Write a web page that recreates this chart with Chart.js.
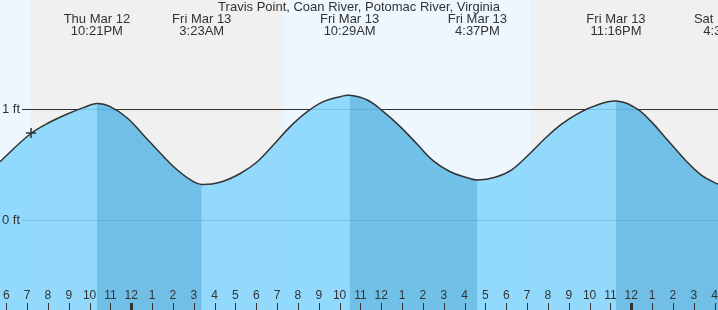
<!DOCTYPE html>
<html><head><meta charset="utf-8">
<script src="https://cdn.jsdelivr.net/npm/chart.js@4.4.1/dist/chart.umd.min.js"></script>
<style>html,body{margin:0;padding:0;background:#fff;overflow:hidden}#wrap{width:718px;height:310px;position:relative}</style>
</head><body><div id="wrap"><canvas id="c"></canvas></div>
<script>
// ---- data (hours counted from 00:00 Thu Mar 12) ----
const titleText = "Travis Point, Coan River, Potomac River, Virginia";
const tideHours = [17.70,19.15,20.11,20.93,21.70,22.35,22.99,23.81,24.58,25.39,26.21,26.98,27.38,28.27,29.23,30.05,30.82,31.63,32.45,33.22,34.03,34.48,35.33,36.10,36.91,37.73,38.50,39.31,40.13,40.62,41.47,42.24,43.06,43.87,44.64,45.46,46.27,47.27,48.24,48.96,49.78,50.59,51.36,52.18,52.53];
const tideFeet  = [0.525,0.775,0.883,0.955,1.012,1.05,1.021,0.919,0.766,0.604,0.450,0.345,0.32,0.34,0.419,0.525,0.676,0.841,0.976,1.066,1.111,1.123,1.081,0.976,0.841,0.682,0.532,0.435,0.381,0.36,0.385,0.450,0.586,0.736,0.862,0.961,1.030,1.072,1.006,0.886,0.712,0.541,0.405,0.322,0.30];
const extremeHours = [22.35,27.383,34.483,40.617,47.267,52.533];
const extremeDays  = ["Thu Mar 12","Fri Mar 13","Fri Mar 13","Fri Mar 13","Fri Mar 13","Sat Mar 14"];
const extremeTimes = ["10:21PM","3:23AM","10:29AM","4:37PM","11:16PM","4:32AM"];
const nightStarts = [19.19,43.19];
const nightEnds   = [31.33,60];
const hourTicks  = [18,19,20,21,22,23,24,25,26,27,28,29,30,31,32,33,34,35,36,37,38,39,40,41,42,43,44,45,46,47,48,49,50,51,52];
const hourLabels = ["6","7","8","9","10","11","12","1","2","3","4","5","6","7","8","9","10","11","12","1","2","3","4","5","6","7","8","9","10","11","12","1","2","3","4"];
const midnightHours = [24,48];
const yTickValues = [0,1];
const yTickLabels = ["0 ft","1 ft"];
const markerHours = [19.19];
const markerFeet  = [0.784];
const xMin = 17.70, xMax = 52.164, yMin = -0.811, yMax = 1.982;

const FONT = '"Liberation Sans", Arial, sans-serif';
const LIGHT = 'rgba(132,214,253,0.87)';
const DARK_OVER = 'rgba(36,134,181,0.3)';

const tidePts = tideHours.map((h,i)=>({x:h,y:tideFeet[i]}));
const markPts = markerHours.map((h,i)=>({x:h,y:markerFeet[i]}));

const deco = {
  id:'deco',
  beforeDraw(chart){
    const {ctx, scales:{x,y}} = chart;
    const H = chart.height, W = chart.width;
    ctx.save();
    ctx.fillStyle = '#eef7fe';
    ctx.fillRect(0,0,W,H);
    ctx.fillStyle = '#f0f0f0';
    nightStarts.forEach((s,i)=>{
      const a = Math.round(x.getPixelForValue(s)), b = Math.round(x.getPixelForValue(nightEnds[i]));
      ctx.fillRect(a,0,b-a,H);
    });
    ctx.strokeStyle = '#333';
    ctx.lineWidth = 1;
    yTickValues.forEach(v=>{
      const py = Math.round(y.getPixelForValue(v))+0.5;
      ctx.beginPath(); ctx.moveTo(22,py); ctx.lineTo(W,py); ctx.stroke();
    });
    ctx.restore();
  },
  afterDatasetsDraw(chart){
    const {ctx, scales:{x,y}} = chart;
    ctx.save();
    ctx.fillStyle = '#333';
    ctx.textBaseline = 'middle';
    ctx.font = '13px ' + FONT;
    ctx.textAlign = 'center';
    ctx.fillText(titleText, chart.width/2, 7.5);
    extremeHours.forEach((h,i)=>{
      const px = x.getPixelForValue(h);
      ctx.fillText(extremeDays[i], px, 19.5);
      ctx.fillText(extremeTimes[i], px, 31.5);
    });
    ctx.textAlign = 'left';
    yTickValues.forEach((v,i)=>{
      ctx.fillText(yTickLabels[i], 2, y.getPixelForValue(v));
    });
    ctx.textAlign = 'center';
    ctx.font = '12px ' + FONT;
    hourTicks.forEach((h,i)=>{
      const px = x.getPixelForValue(h);
      ctx.fillText(hourLabels[i], px, 296);
      const wide = midnightHours.includes(h);
      ctx.fillRect(Math.round(px) - (wide?1:0), 303, wide?3:1, 7);
    });
    ctx.restore();
  }
};

new Chart(document.getElementById('c'), {
  type:'line',
  data:{datasets:[
    {data:markPts, showLine:false, pointStyle:'cross', pointRadius:5, borderColor:'#333', borderWidth:1.5, pointHoverRadius:5},
    {data:tidePts, borderColor:'rgba(0,0,0,0)', borderWidth:0, pointRadius:0, fill:'start',
     backgroundColor:'rgba(0,0,0,0)', tension:0.4,
     segment:{backgroundColor: c => c.p1.parsed.y < c.p0.parsed.y ? DARK_OVER : 'rgba(0,0,0,0)'}},
    {data:tidePts, borderColor:'#333', borderWidth:1.5, pointRadius:0, fill:'start',
     backgroundColor:LIGHT, tension:0.4}
  ]},
  options:{
    responsive:true, maintainAspectRatio:false, animation:false,
    layout:{padding:0, autoPadding:false},
    events:[],
    plugins:{legend:{display:false}, tooltip:{enabled:false}, title:{display:false},
      filler:{drawTime:'beforeDatasetsDraw'}},
    scales:{
      x:{type:'linear', min:xMin, max:xMax, display:false},
      y:{type:'linear', min:yMin, max:yMax, display:false}
    }
  },
  plugins:[deco]
});
</script></body></html>
